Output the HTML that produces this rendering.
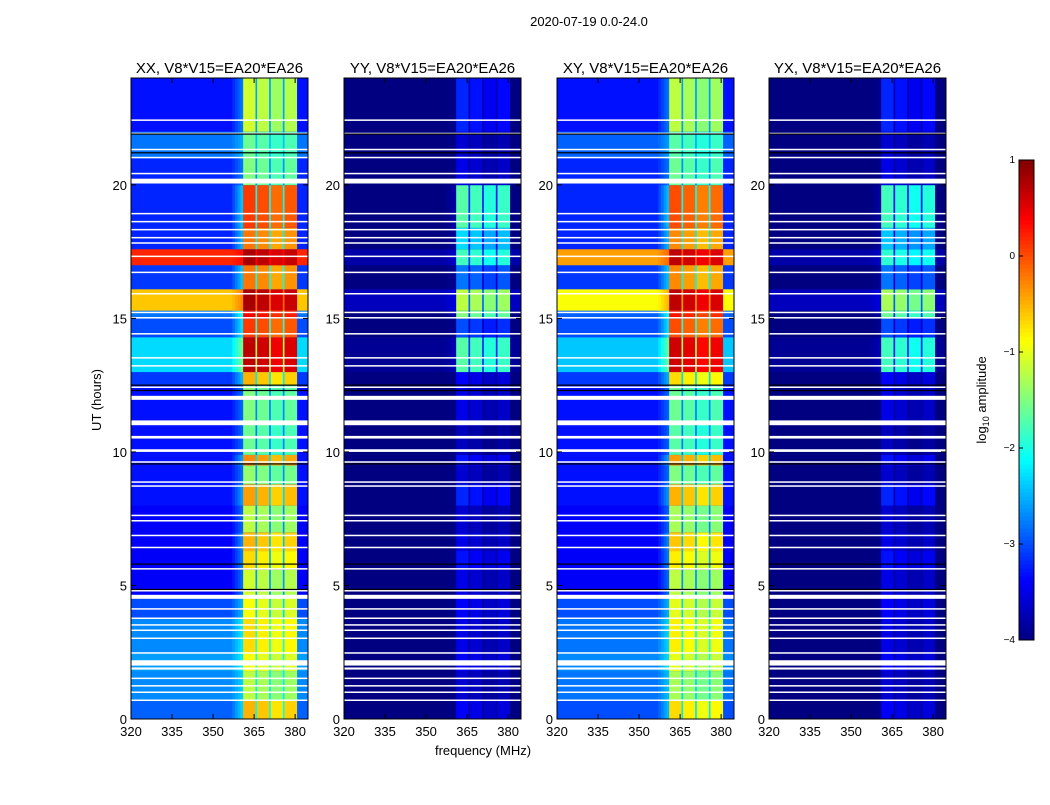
<!DOCTYPE html>
<html><head><meta charset="utf-8"><style>
body{margin:0;background:#fff;font-family:"Liberation Sans",sans-serif;}
svg text{font-family:"Liberation Sans",sans-serif;}
</style></head><body>
<svg id="fig" width="1050" height="800" viewBox="0 0 1050 800" xmlns="http://www.w3.org/2000/svg">
<rect width="1050" height="800" fill="#fff"/>
<text x="589" y="26" font-size="13" text-anchor="middle">2020-07-19 0.0-24.0</text>
<text x="483" y="755" font-size="13" text-anchor="middle">frequency (MHz)</text>
<text transform="translate(101,400) rotate(-90)" font-size="13" text-anchor="middle">UT (hours)</text>
<text transform="translate(986,400) rotate(-90)" font-size="13" text-anchor="middle">log<tspan font-size="9" dy="3">10</tspan><tspan dy="-3"> amplitude</tspan></text>
<g id="panels"></g>
<g id="cbar"></g>
</svg>
<script>
// time segments (hours)
const segStart=[0,0.7,1.8,2.5,3.8,4.6,5.6,6.3,7.0,8.0,8.8,9.5,9.9,11.0,12.5,13.0,14.3,15.0,15.3,16.1,17.0,17.6,18.4,20.0,21.0,22.0];
const segEnd  =[0.7,1.8,2.5,3.8,4.6,5.6,6.3,7.0,8.0,8.8,9.5,9.9,11.0,12.5,13.0,14.3,15.0,15.3,16.1,17.0,17.6,18.4,20.0,21.0,22.0,24.0];
// log10 amplitude per segment: broadband background and 361-381 MHz band
const bgXX  =[-2.9,-2.7,-2.6,-2.7,-3.0,-3.4,-3.4,-3.4,-3.4,-3.3,-3.3,-3.3,-3.3,-3.3,-3.1,-2.3,-3.0,-2.8,-0.6,-3.1,0.2,-3.2,-3.2,-3.2,-2.8,-3.3];
const bandXX=[-0.6,-1.3,-1.0,-0.8,-1.0,-1.2,-0.8,-0.6,-1.3,-0.5,-1.5,-0.4,-1.7,-1.6,-0.6,0.6,0.0,0.3,0.7,-0.3,0.7,-0.3,0.0,-1.6,-1.7,-1.2];
const bgYY  =[-4,-4,-4,-4,-4,-4,-4,-4,-4,-4,-4,-4,-4,-4,-4,-3.9,-4,-4,-3.7,-4,-3.8,-4,-4,-4,-4,-4];
const bandYY=[-3.5,-3.7,-3.5,-3.6,-3.5,-3.6,-3.4,-3.6,-3.7,-3.3,-3.7,-3.4,-3.8,-3.6,-3.5,-1.8,-3.1,-1.6,-1.3,-2.9,-1.9,-2.4,-1.8,-3.6,-3.7,-3.3];
const bgXY  =[-3.0,-2.8,-2.7,-2.8,-3.0,-3.4,-3.4,-3.4,-3.4,-3.3,-3.3,-3.3,-3.3,-3.3,-3.1,-2.4,-3.0,-2.9,-0.9,-3.1,-0.4,-3.2,-3.2,-3.2,-2.9,-3.3];
const bandXY=[-0.8,-1.4,-1.1,-0.9,-1.1,-1.3,-0.9,-0.7,-1.4,-0.6,-1.6,-0.5,-1.8,-1.7,-0.8,0.5,-0.1,0.2,0.6,-0.4,0.6,-0.4,-0.1,-1.7,-1.8,-1.3];
const bgYX  =bgYY;
const bandYX=[-3.5,-3.7,-3.5,-3.6,-3.5,-3.6,-3.4,-3.6,-3.7,-3.3,-3.7,-3.4,-3.8,-3.6,-3.5,-1.9,-3.1,-1.7,-1.4,-2.9,-2.0,-2.5,-1.9,-3.6,-3.7,-3.3];
// flagged (white) rows: start time, duration
const flagT=[0.68,0.98,1.22,1.5,1.85,2.0,2.45,3.0,3.3,3.5,3.75,4.1,4.5,4.78,5.6,6.4,6.85,7.4,7.6,8.7,8.85,9.6,10.0,10.5,11.0,11.95,12.4,13.2,13.5,14.4,15.0,15.2,15.9,16.7,17.3,17.8,18.0,18.3,18.6,18.9,20.05,20.4,21.0,21.3,21.9,22.4];
const flagD=[0.05,0.05,0.05,0.05,0.08,0.2,0.05,0.05,0.05,0.05,0.05,0.05,0.15,0.05,0.05,0.05,0.05,0.05,0.05,0.05,0.05,0.05,0.1,0.1,0.18,0.15,0.05,0.05,0.05,0.05,0.05,0.05,0.05,0.05,0.05,0.05,0.05,0.05,0.05,0.05,0.18,0.05,0.05,0.05,0.05,0.05];
const blackT=[4.85,5.8,9.55,12.3,12.5,21.2,21.9];
const xTicks=[320,335,350,365,380];
const yTicks=[0,5,10,15,20];
const cbTicks=[1,0,-1,-2,-3,-4];
const cbLabels=["1","0","\u22121","\u22122","\u22123","\u22124"];
const titles=["XX, V8*V15=EA20*EA26","YY, V8*V15=EA20*EA26","XY, V8*V15=EA20*EA26","YX, V8*V15=EA20*EA26"];
const bgs=[bgXX,bgYY,bgXY,bgYX], bands=[bandXX,bandYY,bandXY,bandYX];
const panelX=[131,344,557,769], PW=177, PT=78, PB=719;
const NS="http://www.w3.org/2000/svg";
function jet(v){const x=Math.max(0,Math.min(1,(v+4)/5));const c=t=>Math.round(255*Math.max(0,Math.min(1,1.5-Math.abs(t))));return `rgb(${c(4*x-3)},${c(4*x-2)},${c(4*x-1)})`;}
function mk(tag,attrs,parent){const e=document.createElementNS(NS,tag);for(const k in attrs)e.setAttribute(k,attrs[k]);parent.appendChild(e);return e;}
const yS=t=>PB-(t/24)*(PB-PT);
const panels=document.getElementById('panels');
const cols=[[361,365.5,0.1],[366,370.5,0],[371,375.5,-0.15],[376,380.6,-0.05]];
const stripes=[365.5,370.5,375.5];
for(let p=0;p<4;p++){
  const x0=panelX[p], xS=f=>x0+(f-320)*PW/64.7;
  const g=mk('g',{},panels);
  
  
  for(let i=0;i<segStart.length;i++){
    const y1=yS(segEnd[i]), h=yS(segStart[i])-y1, bg=bgs[p][i], bd=bands[p][i];
    const r=mk('rect',{x:x0,y:y1,width:PW,height:h+0.3,fill:jet(bg)},g);
    
    for(let k=0;k<4;k++){const f=357+k;const v=bg+(Math.max(bg,bd)-bg)*0.06*(k+1)*(p%2?0.3:1);
      mk('rect',{x:xS(f),y:y1,width:xS(f+1)-xS(f)+0.3,height:h+0.3,fill:jet(v)},g);}
    cols.forEach(c=>{const rr=mk('rect',{x:xS(c[0]),y:y1,width:xS(c[1])-xS(c[0])+0.3,height:h+0.3,fill:jet(bd+c[2])},g);
      });
    stripes.forEach(f=>mk('rect',{x:xS(f),y:y1,width:xS(f+0.5)-xS(f)+0.3,height:h+0.3,fill:jet(bg+0.35*(bd-bg))},g));
  }
  flagT.forEach((t,i)=>{const y1=yS(t+flagD[i]);mk('rect',{x:x0,y:y1,width:PW,height:Math.max(1.5,yS(t)-y1),fill:'#fff'},g);});
  blackT.forEach(t=>mk('rect',{x:x0,y:yS(t)-0.6,width:PW,height:1.2,fill:'#000'},g));
  mk('rect',{x:x0,y:PT,width:PW,height:PB-PT,fill:'none',stroke:'#000','stroke-width':1},g);
  xTicks.forEach(f=>{const x=xS(f);mk('line',{x1:x,x2:x,y1:PB,y2:PB-5,stroke:'#000'},g);mk('line',{x1:x,x2:x,y1:PT,y2:PT+5,stroke:'#000'},g);
    const t=mk('text',{x:x,y:PB+17,'font-size':13,'text-anchor':'middle'},g);t.textContent=f;
    });
  yTicks.forEach(v=>{const y=yS(v);mk('line',{x1:x0,x2:x0+5,y1:y,y2:y,stroke:'#000'},g);mk('line',{x1:x0+PW,x2:x0+PW-5,y1:y,y2:y,stroke:'#000'},g);
    const t=mk('text',{x:x0-4,y:y+5,'font-size':13,'text-anchor':'end'},g);t.textContent=v;
    });
  const tt=mk('text',{x:x0+PW/2,y:PT-5,'font-size':15,'text-anchor':'middle'},g);tt.textContent=titles[p];
  
}
const cb=document.getElementById('cbar');
const CX=1019,CW=15,CT=160,CB=640;
for(let i=0;i<120;i++){const v=-4+5*i/120;const y=CB-(i+1)*(CB-CT)/120;mk('rect',{x:CX,y:y,width:CW,height:(CB-CT)/120+0.5,fill:jet(v+0.02)},cb);}
mk('rect',{x:CX,y:CT,width:CW,height:CB-CT,fill:'none',stroke:'#000'},cb);
cbTicks.forEach((v,i)=>{const y=CB-(v+4)/5*(CB-CT);mk('line',{x1:CX,x2:CX+4,y1:y,y2:y,stroke:'#000'},cb);
  const t=mk('text',{x:CX-4,y:y+3,'font-size':10,'text-anchor':'end'},cb);t.textContent=cbLabels[i];
  });


</script>
</body></html>
